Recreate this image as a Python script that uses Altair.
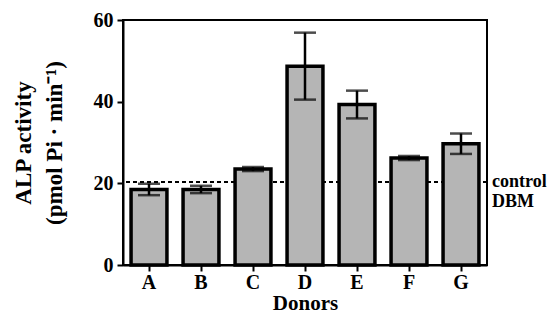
import altair as alt
import pandas as pd

donors = ["A", "B", "C", "D", "E", "F", "G"]
means = [18.5, 18.5, 23.5, 48.7, 39.3, 26.2, 29.7]
errors = [1.4, 0.9, 0.5, 8.2, 3.4, 0.5, 2.5]
control_dbm = 20.3

df = pd.DataFrame({"donor": donors, "mean": means, "err": errors})
df["lo"] = df["mean"] - df["err"]
df["hi"] = df["mean"] + df["err"]
ref = pd.DataFrame({"y": [control_dbm], "label": ["control\nDBM"]})

FONT = "Liberation Serif, Times New Roman, serif"

common_axis = dict(labelFont=FONT, titleFont=FONT, labelFontWeight="bold", titleFontWeight="bold",
                   labelColor="black", titleColor="black", labelFontSize=20,
                   tickSize=6, tickWidth=2, domainWidth=2, domainColor="black", tickColor="black")

x = alt.X("donor:N", sort=donors,
          scale=alt.Scale(paddingInner=0.31, paddingOuter=0.155),
          axis=alt.Axis(title="Donors", labelAngle=0, labelPadding=1,
                        titleBaseline="alphabetic", titleY=44,
                        titleFontSize=21, **common_axis))
y = alt.Y("mean:Q", scale=alt.Scale(domain=[0, 60]),
          axis=alt.Axis(title=["ALP activity", "(pmol Pi · min⁻¹)"], values=[0, 20, 40, 60],
                        grid=False, titleLineHeight=31, labelPadding=4, titlePadding=27,
                        titleFontSize=23, **common_axis))

base = alt.Chart(df)

refline = alt.Chart(ref).mark_rule(color="black", strokeWidth=2, strokeDash=[4, 3]).encode(
    y=alt.Y("y:Q", scale=alt.Scale(domain=[0, 60])))

bars = base.mark_bar(color="#b5b5b5", stroke="black", strokeWidth=3.5).encode(x=x, y=y)

rules = base.mark_rule(color="black", strokeWidth=2.5).encode(
    x=alt.X("donor:N", sort=donors), y="lo:Q", y2="hi:Q")
caps_hi = base.mark_tick(color="black", thickness=2.5, size=22).encode(
    x=alt.X("donor:N", sort=donors), y="hi:Q")
caps_lo = base.mark_tick(color="black", thickness=2.5, size=22).encode(
    x=alt.X("donor:N", sort=donors), y="lo:Q")

label = alt.Chart(ref).mark_text(align="left", baseline="middle", fontSize=18, fontWeight="bold",
                                 font=FONT, lineBreak="\n", lineHeight=20, dx=5, color="black").encode(
    x=alt.value(364), y="y:Q", text="label:N")

chart = alt.layer(refline, bars, rules, caps_hi, caps_lo, label).properties(
    width=364, height=245,
    autosize=alt.AutoSizeParams(type="none"),
    padding={"left": 115, "top": 12, "right": 64, "bottom": 48},
).configure_view(stroke="black", strokeWidth=2)

chart.save("out.html", embed_options={"renderer": "svg", "actions": False})
